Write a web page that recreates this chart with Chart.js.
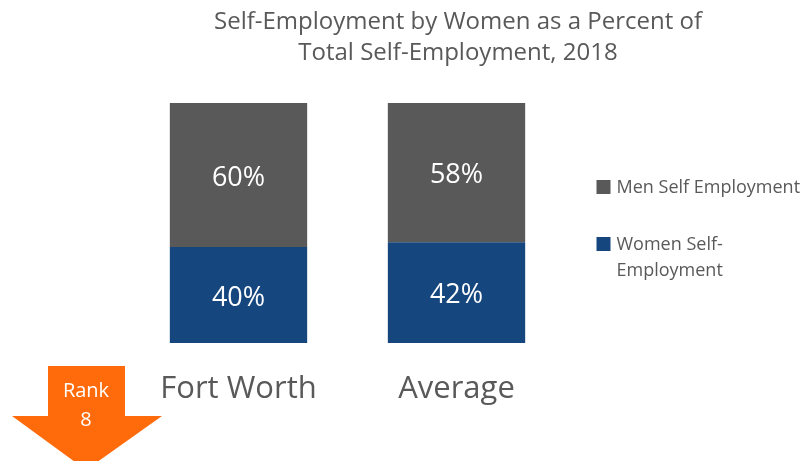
<!DOCTYPE html>
<html>
<head>
<meta charset="utf-8">
<script src="https://cdn.jsdelivr.net/npm/chart.js@4"></script>
<style>
  html, body { margin: 0; padding: 0; background: #fff; }
  #wrap { width: 812px; height: 461px; position: relative; }
</style>
</head>
<body>
<div id="wrap"><canvas id="chart" width="812" height="461"></canvas></div>
<script>
// data
const categories = ['Fort Worth', 'Average'];
const womenShare = [40, 42];
const menShare = [60, 58];
const seriesNames = ['Women Self-Employment', 'Men Self Employment'];
const titleLines = ['Self-Employment by Women as a Percent of', 'Total Self-Employment, 2018'];
const rankLines = ['Rank', '8'];

const FONT = "'Open Sans', 'DejaVu Sans', sans-serif";
const GREY_TEXT = '#595959';

// title sits over the bars + legend, not just the plot area
const chartTitle = {
    id: 'chartTitle',
    afterDraw(chart) {
        const ctx = chart.ctx;
        ctx.save();
        ctx.fillStyle = GREY_TEXT;
        ctx.font = '24px ' + FONT;
        ctx.textAlign = 'center';
        ctx.textBaseline = 'alphabetic';
        ctx.fillText(titleLines[0], 458, 28.5);
        ctx.fillText(titleLines[1], 458, 59.5);
        ctx.restore();
    }
};

// white percentage in the middle of each segment
const segmentLabels = {
    id: 'segmentLabels',
    afterDatasetsDraw(chart) {
        const ctx = chart.ctx;
        ctx.save();
        ctx.fillStyle = '#ffffff';
        ctx.font = '27px ' + FONT;
        ctx.textAlign = 'center';
        ctx.textBaseline = 'middle';
        chart.data.datasets.forEach((ds, i) => {
            chart.getDatasetMeta(i).data.forEach((bar, j) => {
                const mid = (bar.y + bar.base) / 2;
                ctx.fillText(ds.data[j] + '%', bar.x, mid + 3);
            });
        });
        ctx.restore();
    }
};

// legend on the right, men first, long names wrapped
const sideLegend = {
    id: 'sideLegend',
    afterDraw(chart) {
        const ctx = chart.ctx;
        const area = chart.chartArea;
        const x = area.right + 31;
        const maxWidth = 180;
        const rowY = [187, 244];
        ctx.save();
        ctx.font = '18px ' + FONT;
        ctx.textBaseline = 'middle';
        ctx.textAlign = 'left';
        const order = chart.data.datasets.map((d, i) => i).reverse();
        order.forEach((dsIndex, row) => {
            const ds = chart.data.datasets[dsIndex];
            const y = rowY[row];
            ctx.fillStyle = ds.backgroundColor;
            ctx.fillRect(x, y - 7, 14, 14);
            ctx.fillStyle = GREY_TEXT;
            const lines = wrap(ctx, ds.label, maxWidth);
            lines.forEach((line, k) => ctx.fillText(line, x + 20, y + 1 + k * 26));
        });
        ctx.restore();
    }
};

function wrap(ctx, text, maxWidth) {
    if (ctx.measureText(text).width <= maxWidth) return [text];
    const cut = text.indexOf('-');
    if (cut > 0) return [text.slice(0, cut + 1), text.slice(cut + 1)];
    return [text];
}

// orange "rank" arrow in the bottom-left corner
const rankArrow = {
    id: 'rankArrow',
    afterDraw(chart) {
        const ctx = chart.ctx;
        const cx = 86;
        ctx.save();
        ctx.fillStyle = '#ff6a0a';
        ctx.beginPath();
        ctx.moveTo(cx - 38, 366);
        ctx.lineTo(cx + 39, 366);
        ctx.lineTo(cx + 39, 416);
        ctx.lineTo(cx + 76, 416);
        ctx.lineTo(cx, 470);
        ctx.lineTo(cx - 74, 416);
        ctx.lineTo(cx - 38, 416);
        ctx.closePath();
        ctx.fill();
        ctx.fillStyle = '#ffffff';
        ctx.font = '20px ' + FONT;
        ctx.textAlign = 'center';
        ctx.textBaseline = 'middle';
        ctx.fillText(rankLines[0], cx, 391);
        ctx.fillText(rankLines[1], cx, 420);
        ctx.restore();
    }
};

new Chart(document.getElementById('chart'), {
    type: 'bar',
    data: {
        labels: categories,
        datasets: [
            { label: seriesNames[0], data: womenShare, backgroundColor: '#16467e' },
            { label: seriesNames[1], data: menShare, backgroundColor: '#595959' }
        ]
    },
    options: {
        responsive: false,
        devicePixelRatio: 1,
        animation: false,
        events: [],
        layout: { padding: { left: 129.5, right: 246.5, top: 103, bottom: 0 } },
        datasets: { bar: { categoryPercentage: 1, barPercentage: 0.63 } },
        scales: {
            x: {
                stacked: true,
                grid: { display: false, drawTicks: false },
                border: { display: false },
                ticks: { color: GREY_TEXT, font: { family: FONT, size: 31 }, padding: 28 },
                afterFit(scale) { scale.height = 118; }
            },
            y: {
                stacked: true,
                display: false,
                min: 0,
                max: 100
            }
        },
        plugins: {
            legend: { display: false },
            tooltip: { enabled: false },
            title: { display: false }
        }
    },
    plugins: [chartTitle, segmentLabels, sideLegend, rankArrow]
});
</script>
</body>
</html>
